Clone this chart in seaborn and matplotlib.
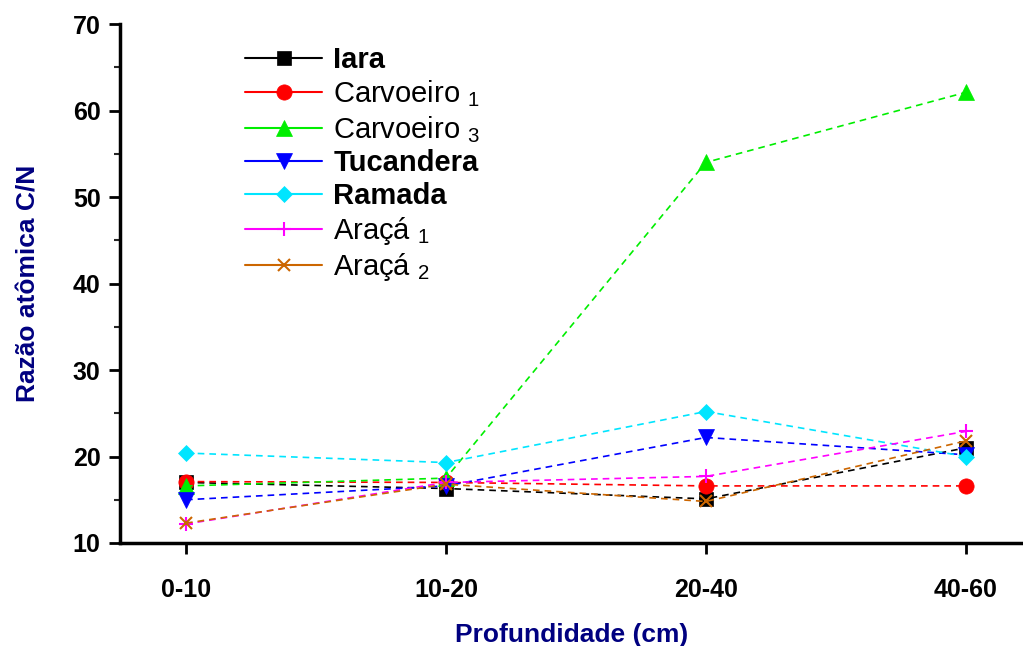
import matplotlib
matplotlib.use("Agg")
import matplotlib.pyplot as plt
import seaborn as sns
import pandas as pd
from matplotlib.lines import Line2D
from matplotlib.ticker import MultipleLocator

depths = ["0-10", "10-20", "20-40", "40-60"]
iara = [17.0, 16.3, 15.1, 21.0]
carvoeiro1 = [17.1, 17.0, 16.6, 16.6]
carvoeiro3 = [16.6, 17.5, 54.0, 62.1]
tucandera = [15.0, 16.6, 22.2, 20.2]
ramada = [20.4, 19.3, 25.2, 20.0]
araca1 = [12.2, 17.0, 17.7, 22.9]
araca2 = [12.3, 16.8, 14.8, 21.8]

series = [
    ("Iara", iara, "black", "s", 10, "bold"),
    (r"Carvoeiro $_{\mathregular{1}}$", carvoeiro1, "#ff0000", "o", 11, "normal"),
    (r"Carvoeiro $_{\mathregular{3}}$", carvoeiro3, "#00ee00", "^", 11, "normal"),
    ("Tucandera", tucandera, "#0000ff", "v", 11, "bold"),
    ("Ramada", ramada, "#00e5ff", "D", 8, "bold"),
    (r"Araçá $_{\mathregular{1}}$", araca1, "#ff00ff", "+", 10, "normal"),
    (r"Araçá $_{\mathregular{2}}$", araca2, "#cc6600", "x", 9, "normal"),
]

sns.set_style("ticks")
plt.rcParams["font.family"] = ["Liberation Sans", "DejaVu Sans"]
plt.rcParams["mathtext.fontset"] = "custom"
plt.rcParams["mathtext.rm"] = "Liberation Sans"
plt.rcParams["text.color"] = "black"

fig = plt.figure(figsize=(10.23, 6.46), dpi=100)
ax = fig.add_axes([120 / 1023, 1 - 543 / 646, 1 - 120 / 1023, (543 - 24) / 646])

handles = []
for name, vals, color, marker, ms, weight in series:
    df = pd.DataFrame({"x": depths, "y": vals})
    mew = 1.5 if marker in ("+", "x") else 0.5
    sns.lineplot(data=df, x="x", y="y", ax=ax, color=color, marker=marker,
                 markersize=ms, linestyle=(0, (4, 3)), linewidth=1.2,
                 markeredgecolor=color, markeredgewidth=mew, sort=False)
    handles.append(Line2D([0], [0], color=color, marker=marker, markersize=ms,
                          markeredgecolor=color, linestyle="-", linewidth=1.5,
                          markeredgewidth=mew))

ax.set_xlim(-0.254, 3.22)
ax.set_ylim(10, 70)
ax.yaxis.set_major_locator(MultipleLocator(10))
ax.yaxis.set_minor_locator(MultipleLocator(5))
ax.set_xticks(range(len(depths)))
ax.set_xticklabels(depths)

for s in ["top", "right"]:
    ax.spines[s].set_visible(False)
for s in ["left", "bottom"]:
    ax.spines[s].set_linewidth(2.5)
    ax.spines[s].set_color("black")

ax.tick_params(axis="both", which="major", direction="out", length=8, width=2,
               labelsize=18, colors="black")
ax.tick_params(axis="y", which="major", pad=6)
ax.tick_params(axis="x", which="major", pad=17)
ax.tick_params(axis="y", which="minor", direction="out", length=4.5, width=1.5)
for lab in ax.get_xticklabels() + ax.get_yticklabels():
    lab.set_fontweight("bold")

ax.set_xlabel("Profundidade (cm)", fontsize=19, fontweight="bold", color="#000080", labelpad=15)
ax.set_ylabel("Razão atômica C/N", fontsize=19, fontweight="bold", color="#000080", labelpad=23)

leg = ax.legend(handles, [s[0] for s in series], loc="upper left",
                bbox_to_anchor=(125 / 903, 0.958), frameon=False, fontsize=21,
                handlelength=2.65, handletextpad=0.38, labelspacing=0.16,
                borderaxespad=0, borderpad=0)
for t, s in zip(leg.get_texts(), series):
    t.set_fontweight(s[5])
    t.set_color("black")

fig.savefig("out.png", dpi=100)
